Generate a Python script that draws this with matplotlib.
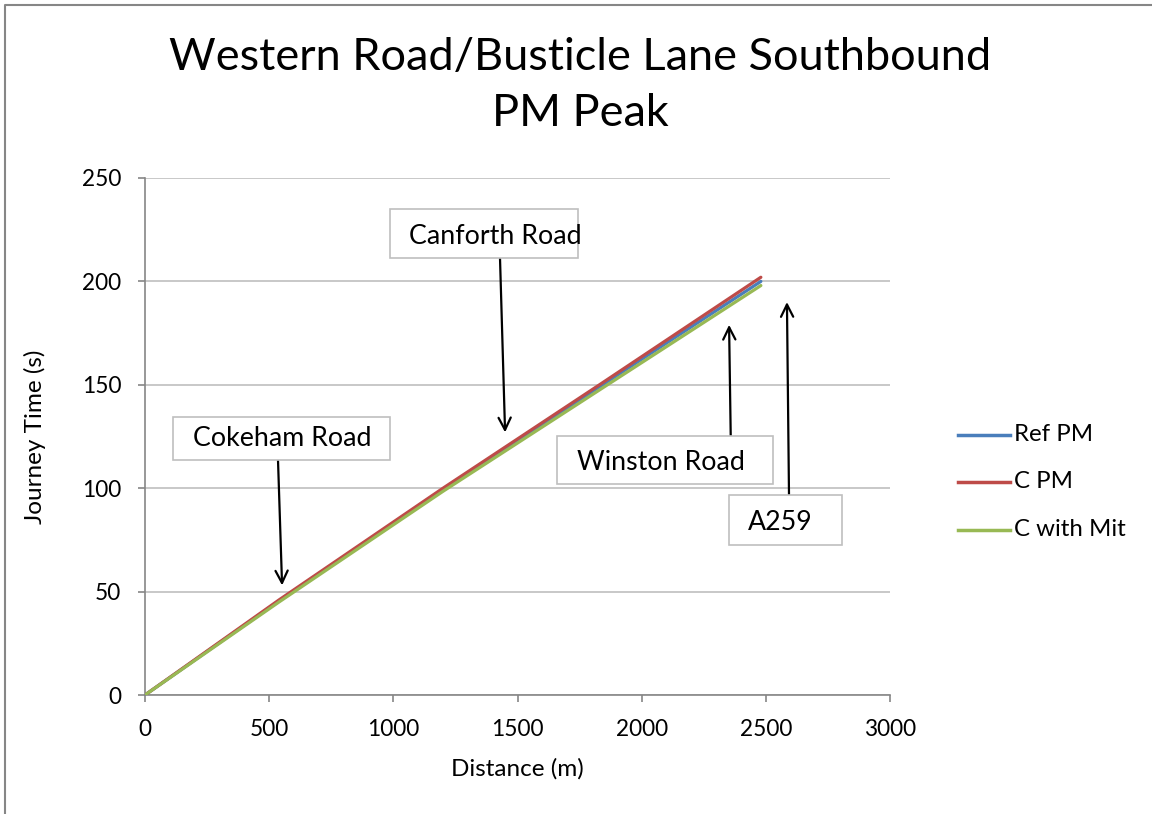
import matplotlib
matplotlib.use("Agg")
import matplotlib.pyplot as plt
from matplotlib.patches import Rectangle
from matplotlib.lines import Line2D

plt.rcParams['font.family'] = ['Lato', 'DejaVu Sans']

# Journey time profiles (distance in m, time in s)
distance = [0, 540, 1200, 1830, 2480]
ref_pm = [0, 45.5, 99.5, 149.0, 200.0]
c_pm = [0, 46.0, 100.0, 150.0, 202.0]
c_with_mit = [0, 45.0, 98.5, 147.5, 198.0]

series_names = ["Ref PM", "C PM", "C with Mit"]
series_colors = ["#4a7ebb", "#be4b48", "#98b954"]

# Junction labels: text, arrow tip (distance, time)
junctions = ["Cokeham Road", "Canforth Road", "Winston Road", "A259"]
junction_tips = [(552, 53), (1450, 127), (2352, 179), (2585, 190)]

W, H = 1152, 814
fig = plt.figure(figsize=(W / 100, H / 100), dpi=100)


def fx(px):
    return px / W


def fy(py):
    return 1 - py / H


ax = fig.add_axes([fx(145), fy(695), fx(890) - fx(145), fy(178) - fy(695)])

for vals, name, col in zip([ref_pm, c_pm, c_with_mit], series_names, series_colors):
    ax.plot(distance, vals, color=col, lw=2.3, label=name, solid_capstyle='round', zorder=3)

ax.set_xlim(0, 3000)
ax.set_ylim(0, 250)
ax.set_xticks(range(0, 3001, 500))
ax.set_yticks(range(0, 251, 50))
ax.grid(axis='y', color='#bfbfbf', lw=1.2)
ax.set_axisbelow(True)
for s in ['top', 'right']:
    ax.spines[s].set_visible(False)
for s in ['left', 'bottom']:
    ax.spines[s].set_color('#868686')
    ax.spines[s].set_linewidth(1.2)
ax.tick_params(axis='both', colors='#868686', length=5, width=1.2, labelsize=16.3,
               labelcolor='black')
ax.tick_params(axis='x', pad=12)
ax.tick_params(axis='y', pad=12)
ax.set_xlabel("Distance (m)", fontsize=17.5, labelpad=13)
ax.set_ylabel("Journey Time (s)", fontsize=17.5, labelpad=26)

fig.text(fx(580), fy(58), "Western Road/Busticle Lane Southbound", ha='center', va='center',
         fontsize=32.5)
fig.text(fx(580), fy(114), "PM Peak", ha='center', va='center', fontsize=32.5)

# Label boxes (pixel extents) and arrow tails
boxes = [(173, 417, 390, 460), (390, 209, 578, 258), (557, 436, 773, 484), (729, 495, 842, 545)]
tails = [(278, 460), (500, 258), (731, 455), (789, 495)]
text_pos = [(282, 439), (495, 237), (661, 463), (780, 522)]

for label, tip, box, tail, tp in zip(junctions, junction_tips, boxes, tails, text_pos):
    x0, y0, x1, y1 = box
    fig.patches.append(Rectangle((fx(x0), fy(y1)), fx(x1) - fx(x0), fy(y0) - fy(y1),
                                 transform=fig.transFigure, facecolor='white',
                                 edgecolor='#bfbfbf', lw=1.2, zorder=4))
    fig.text(fx(tp[0]), fy(tp[1]), label, ha='center', va='center', fontsize=19.3, zorder=5)
    ax.annotate("", xy=tip, xycoords='data', xytext=(fx(tail[0]), fy(tail[1])),
                textcoords='figure fraction',
                arrowprops=dict(arrowstyle='->', lw=1.6, color='black',
                                mutation_scale=22, shrinkA=0, shrinkB=0),
                zorder=6, annotation_clip=False)

# Legend
leg_y = [435, 482, 530]
for name, col, yy in zip(series_names, series_colors, leg_y):
    fig.add_artist(Line2D([fx(958), fx(1010)], [fy(yy), fy(yy)], color=col, lw=2.5,
                          transform=fig.transFigure))
    fig.text(fx(1014), fy(yy), name, ha='left', va='center', fontsize=17.3)

# Chart frame
fig.add_artist(Line2D([fx(5), fx(5), fx(1152)], [fy(814), fy(5), fy(5)], color='#868686',
                      lw=1.5, transform=fig.transFigure))

fig.savefig("out.png", dpi=100)
